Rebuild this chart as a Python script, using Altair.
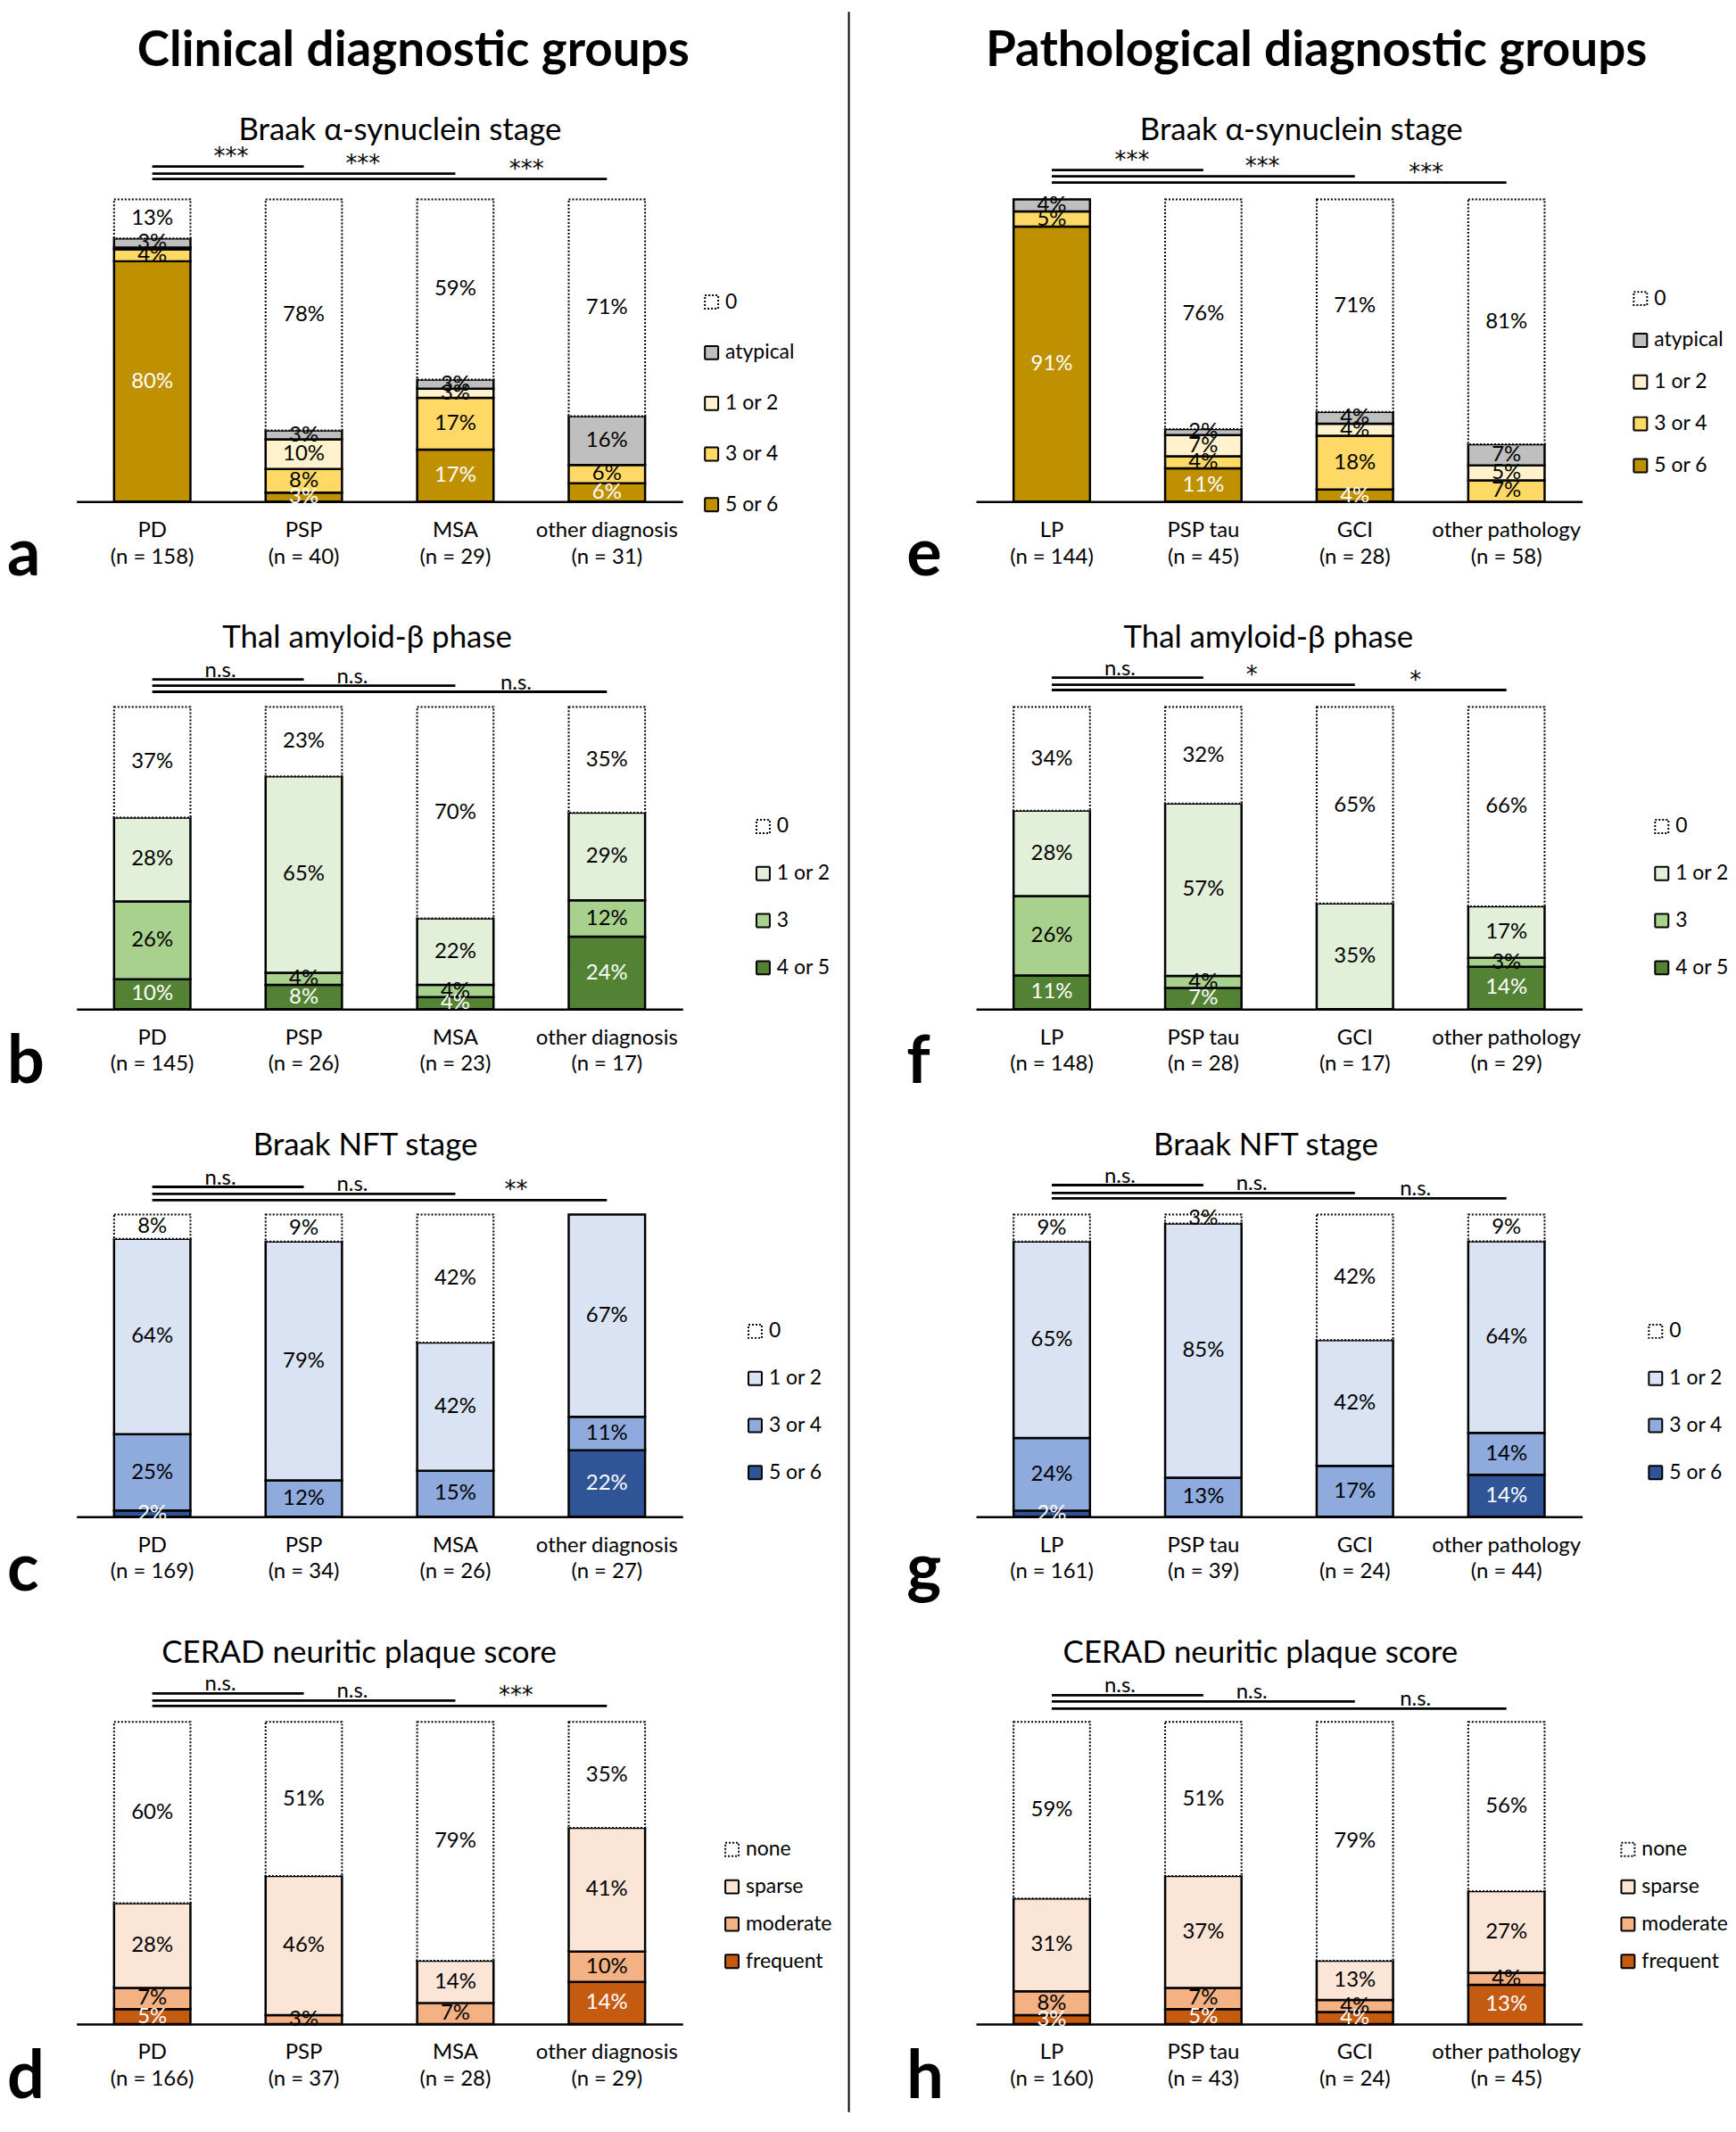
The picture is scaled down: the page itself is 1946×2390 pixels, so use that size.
import altair as alt
import pandas as pd

FONT = "Lato"
W, H = 682, 340

# ---------------- data ----------------
clinical_groups = ["PD", "PSP", "MSA", "other diagnosis"]
pathology_groups = ["LP", "PSP tau", "GCI", "other pathology"]
pathology_groups_f = ["LP", "PSP tau", "GCI", "other  pathology"]

asyn_cats = ["0", "atypical", "1 or 2", "3 or 4", "5 or 6"]
asyn_colors = ["#ffffff", "#bfbfbf", "#fff2cc", "#ffd966", "#bf9000"]
thal_cats = ["0", "1 or 2", "3", "4 or 5"]
thal_colors = ["#ffffff", "#e2f0d9", "#a9d18e", "#548235"]
nft_cats = ["0", "1 or 2", "3 or 4", "5 or 6"]
nft_colors = ["#ffffff", "#dae3f3", "#8faadc", "#2f5597"]
cerad_cats = ["none", "sparse", "moderate", "frequent"]
cerad_colors = ["#ffffff", "#fbe5d6", "#f4b183", "#c55a11"]

n_a = [158, 40, 29, 31]
n_b = [145, 26, 23, 17]
n_c = [169, 34, 26, 27]
n_d = [166, 37, 28, 29]
n_e = [144, 45, 28, 58]
n_f = [148, 28, 17, 29]
n_g = [161, 39, 24, 44]
n_h = [160, 43, 24, 45]

# percentages per category (one value per group)
pct_a = {"0": [13, 78, 59, 71], "atypical": [3, 3, 3, 16], "1 or 2": [0.6, 10, 3, 0],
         "3 or 4": [4, 8, 17, 6], "5 or 6": [80, 3, 17, 6]}
pct_b = {"0": [37, 23, 70, 35], "1 or 2": [28, 65, 22, 29], "3": [26, 4, 4, 12], "4 or 5": [10, 8, 4, 24]}
pct_c = {"0": [8, 9, 42, 0], "1 or 2": [64, 79, 42, 67], "3 or 4": [25, 12, 15, 11], "5 or 6": [2, 0, 0, 22]}
pct_d = {"none": [60, 51, 79, 35], "sparse": [28, 46, 14, 41], "moderate": [7, 3, 7, 10], "frequent": [5, 0, 0, 14]}
pct_e = {"0": [0, 76, 71, 81], "atypical": [4, 2, 4, 7], "1 or 2": [0, 7, 4, 5],
         "3 or 4": [5, 4, 18, 7], "5 or 6": [91, 11, 4, 0]}
pct_f = {"0": [34, 32, 65, 66], "1 or 2": [28, 57, 35, 17], "3": [26, 4, 0, 3], "4 or 5": [11, 7, 0, 14]}
pct_g = {"0": [9, 3, 42, 9], "1 or 2": [65, 85, 42, 64], "3 or 4": [24, 13, 17, 14], "5 or 6": [2, 0, 0, 14]}
pct_h = {"none": [59, 51, 79, 56], "sparse": [31, 37, 13, 27], "moderate": [8, 7, 4, 4], "frequent": [3, 5, 4, 13]}

sig_a = ["***", "***", "***"]
sig_b = ["n.s.", "n.s.", "n.s."]
sig_c = ["n.s.", "n.s.", "**"]
sig_d = ["n.s.", "n.s.", "***"]
sig_e = ["***", "***", "***"]
sig_f = ["n.s.", "*", "*"]
sig_g = ["n.s.", "n.s.", "n.s."]
sig_h = ["n.s.", "n.s.", "n.s."]

# ---------------- layout constants ----------------
BAND = dict(paddingInner=0.496, paddingOuter=0.248)
YSCALE = alt.Scale(domain=[0, 1], nice=False, zero=True)
XQ = alt.Scale(domain=[-0.5, 3.5], nice=False, zero=False)
FS = 24


def panel(groups, ns, pct, cats, colors, sig, subtitle, letter, leg, br_px, br_x, sub_x,
          main=None, main_x=0, divider=False):
    labels = [f"{g}|(n = {n})" for g, n in zip(groups, ns)]
    dark = cats[-1]
    rows = []
    for gi, lab in enumerate(labels):
        total = sum(pct[c][gi] for c in cats)
        y = 0.0
        for c in reversed(cats):
            v = pct[c][gi]
            if v <= 0:
                continue
            h = v / total
            rows.append(dict(group=lab, cat=c, y0=y, y1=y + h, mid=y + h / 2,
                             label=(f"{round(v)}%" if v >= 1 else ""),
                             tc=("#ffffff" if c == dark else "#000000")))
            y += h
    df = pd.DataFrame(rows)

    lx, lfirst, lsp = leg
    legend = alt.Legend(title=None, orient="none", legendX=lx, legendY=lfirst - 12,
                        symbolType="square", symbolSize=225, symbolStrokeColor="black",
                        symbolStrokeWidth=2, labelFontSize=23, labelColor="black",
                        labelFont=FONT, rowPadding=lsp - 23, labelOffset=4)
    xband = alt.Scale(domain=labels, **BAND)
    zero_cat = cats[0]
    bars = alt.Chart(df).mark_bar().encode(
        x=alt.X("group:N", sort=labels, scale=xband, title=None,
                axis=alt.Axis(labelAngle=0, labelExpr="split(datum.label, '|')",
                              labelFontSize=FS, labelColor="black", labelFont=FONT,
                              labelLineHeight=30, labelPadding=20, ticks=False,
                              domainColor="black", domainWidth=2.5, labelBaseline="top")),
        y=alt.Y("y0:Q", scale=YSCALE, title=None,
                axis=alt.Axis(values=[i / 10 for i in range(11)], format=".0%", domain=False,
                              ticks=False, grid=False, labelFontSize=23, labelColor="black",
                              labelFont=FONT, labelPadding=24)),
        y2="y1:Q",
        fill=alt.Fill("cat:N", scale=alt.Scale(domain=cats, range=colors), legend=legend),
        stroke=alt.Stroke("cat:N", scale=alt.Scale(domain=cats, range=["#000000"] * len(cats)),
                          legend=legend),
        strokeDash=alt.StrokeDash("cat:N", scale=alt.Scale(domain=cats, range=[[2, 2]] + [[1, 0]] * (len(cats) - 1)),
                                  legend=legend),
        strokeWidth=alt.condition(f"datum.cat == '{zero_cat}'", alt.value(2), alt.value(2.5)),
    )
    txt = alt.Chart(df).transform_filter("datum.label != ''").mark_text(
        fontSize=FS, font=FONT, baseline="middle").encode(
        x=alt.X("group:N", sort=labels, scale=xband, axis=None),
        y=alt.Y("mid:Q", scale=YSCALE, axis=None),
        text="label:N",
        color=alt.Color("tc:N", scale=None),
    )
    br = pd.DataFrame({"x0": [0, 0, 0], "x1": [1, 2, 3], "yy": [1 + p / H for p in br_px]})
    rules = alt.Chart(br).mark_rule(color="black", strokeWidth=2.8).encode(
        x=alt.X("x0:Q", scale=XQ, axis=None), x2="x1:Q",
        y=alt.Y("yy:Q", scale=YSCALE, axis=None))
    bl = pd.DataFrame({"x": br_x, "yy": [1 + (p + 3) / H for p in br_px], "s": sig})
    sig_ns = alt.Chart(bl).transform_filter("datum.s == 'n.s.'").mark_text(
        fontSize=FS, font=FONT, baseline="alphabetic").encode(
        x=alt.X("x:Q", scale=XQ, axis=None), y=alt.Y("yy:Q", scale=YSCALE, axis=None), text="s:N")
    sig_st = alt.Chart(bl).transform_filter("datum.s != 'n.s.'").mark_text(
        fontSize=26, font="DejaVu Sans", baseline="alphabetic").encode(
        x=alt.X("x:Q", scale=XQ, axis=None), y=alt.Y("yy:Q", scale=YSCALE, axis=None), text="s:N")
    sub = alt.Chart(pd.DataFrame({"t": [subtitle]})).mark_text(
        fontSize=35, font=FONT, baseline="middle").encode(
        x=alt.value(sub_x), y=alt.value(-78), text="t:N")
    let = alt.Chart(pd.DataFrame({"t": [letter]})).mark_text(
        fontSize=74, font=FONT, fontWeight="bold", align="left", baseline="alphabetic").encode(
        x=alt.value(-78), y=alt.value(H + 83), text="t:N")
    layers = [bars, txt, rules, sig_ns, sig_st, sub, let]
    if main:
        layers.append(alt.Chart(pd.DataFrame({"t": [main]})).mark_text(
            fontSize=55, font=FONT, fontWeight="bold", baseline="middle").encode(
            x=alt.value(main_x), y=alt.value(-167), text="t:N"))
    if divider:
        layers.append(alt.Chart(pd.DataFrame({"t": [0]})).mark_rule(color="black", strokeWidth=2).encode(
            x=alt.value(869), y=alt.value(-211), y2=alt.value(2152)))
    return alt.layer(*layers).resolve_scale(x="independent").properties(width=W, height=H)


XL1 = [0.52, 1.39, 2.47]
XL2 = [0.45, 1.32, 2.40]

pa = panel(clinical_groups, n_a, pct_a, asyn_cats, asyn_colors, sig_a, "Braak α-synuclein stage", "a",
           (703, 116, 56), [37, 29, 23], XL1, 364, main="Clinical diagnostic groups", main_x=379, divider=True)
pe = panel(pathology_groups, n_e, pct_e, asyn_cats, asyn_colors, sig_e, "Braak α-synuclein stage", "e",
           (736, 112, 46), [33, 26, 19], [0.53, 1.39, 2.47], 366, main="Pathological diagnostic groups", main_x=383)
pb = panel(clinical_groups, n_b, pct_b, thal_cats, thal_colors, sig_b, "Thal amyloid-β phase", "b",
           (761, 135, 52), [31, 24, 17], XL2, 327)
pf = panel(pathology_groups_f, n_f, pct_f, thal_cats, thal_colors, sig_f, "Thal amyloid-β phase", "f",
           (760, 135, 52), [33, 25, 19], XL2, 329)
pc = panel(clinical_groups, n_c, pct_c, nft_cats, nft_colors, sig_c, "Braak NFT stage", "c",
           (752, 132, 52), [31, 23, 16], XL2, 325)
pg = panel(pathology_groups, n_g, pct_g, nft_cats, nft_colors, sig_g, "Braak NFT stage", "g",
           (753, 132, 52), [33, 24, 18], XL2, 326)
pdd = panel(clinical_groups, n_d, pct_d, cerad_cats, cerad_colors, sig_d, "CERAD neuritic plaque score", "d",
            (726, 144, 41), [32, 24, 18], XL2, 318)
ph = panel(pathology_groups, n_h, pct_h, cerad_cats, cerad_colors, sig_h, "CERAD neuritic plaque score", "h",
           (722, 144, 41), [30, 23, 15], XL2, 320)

chart = alt.concat(pa, pe, pb, pf, pc, pg, pdd, ph, columns=2,
                   spacing={"row": 231, "column": 330}, bounds="flush", padding=0)
chart = chart.resolve_scale(fill="independent", stroke="independent", strokeDash="independent",
                            color="independent") \
    .resolve_legend(fill="independent", stroke="independent", strokeDash="independent") \
    .configure(font=FONT).configure_view(strokeWidth=0)

chart.save("out.html", embed_options={"renderer": "svg", "actions": False})
